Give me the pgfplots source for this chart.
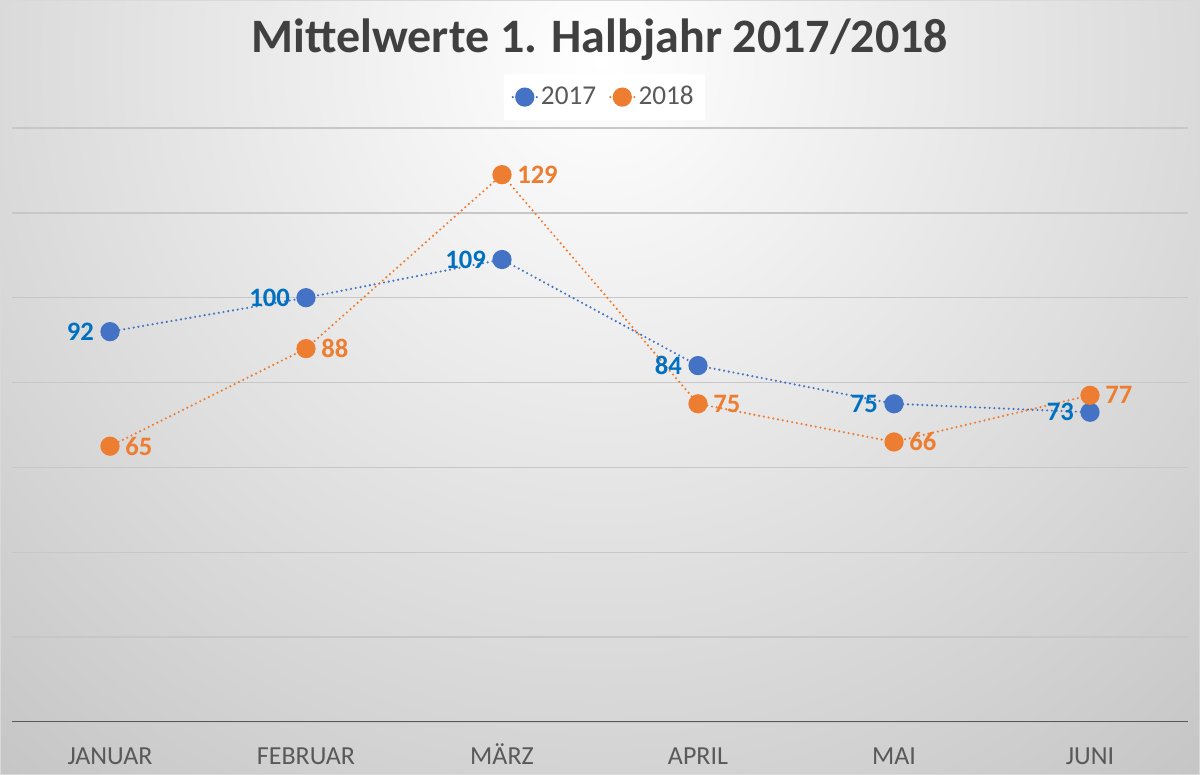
\documentclass[border=0pt]{standalone}
\usepackage{fontspec}
\setmainfont{Carlito}
\usepackage{pgfplots}
\pgfplotsset{compat=1.18}
\definecolor{cblue}{HTML}{4472C4}
\definecolor{corange}{HTML}{ED7D31}
\definecolor{lblue}{HTML}{0070C0}
\definecolor{tgray}{HTML}{404040}
\definecolor{agray}{HTML}{595959}
\begin{document}
\begin{tikzpicture}
\useasboundingbox (-6pt,-26.5pt) rectangle (594pt,361pt);
\begin{scope}
\clip (-6pt,-26.5pt) rectangle (594pt,361pt);
\shade[inner color=white, outer color=black!30] (294pt,330pt) circle (620pt);
\end{scope}
\draw[black!15, line width=0.6pt] (-5.7pt,-26.2pt) rectangle (593.7pt,360.7pt);
\begin{axis}[
  at={(0,0)}, anchor=south west,
  scale only axis, width=588pt, height=297pt,
  xmin=-0.5, xmax=5.5, ymin=0, ymax=140,
  xtick={0,...,5},
  xticklabels={JANUAR,FEBRUAR,MÄRZ,APRIL,MAI,JUNI},
  ytick={0,20,...,140}, yticklabels={},
  ymajorgrids,
  major grid style={color=black!22, line width=0.7pt},
  tick style={draw=none},
  axis line style={draw=none},
  /pgf/number format/assume math mode=true,
  xticklabel style={font=\fontsize{13}{15}\selectfont, text=agray, anchor=base, yshift=-21.5pt},
  legend columns=2,
  legend style={at={(0.5035,1.052)}, anchor=center, draw=none, fill=white,
    font=\fontsize{13.6}{15}\selectfont, text=agray, inner sep=4pt,
    nodes={inner xsep=1.5pt},
    /tikz/every odd column/.append style={column sep=0pt},
    /tikz/every even column/.append style={column sep=5pt}},
  legend image code/.code={\draw[mark repeat=2, mark phase=2, #1] plot coordinates {(0pt,0pt) (6pt,0pt) (12pt,0pt)};},
  every axis plot/.append style={line width=1.2pt, line cap=round, dash pattern=on 0pt off 2.4pt},
  nodes near coords,
]
\addplot[color=cblue, mark=*, mark size=4.2pt, mark options={solid, fill=cblue, draw=cblue},
  nodes near coords style={anchor=east, xshift=-4.2pt, font=\bfseries\fontsize{13.3}{15}\selectfont, text=lblue}]
  coordinates {(0,92) (1,100) (2,109) (3,84) (4,75) (5,73)};
\addlegendentry{2017}
\addplot[color=corange, mark=*, mark size=4.2pt, mark options={solid, fill=corange, draw=corange},
  nodes near coords style={anchor=west, xshift=3.7pt, font=\bfseries\fontsize{13.3}{15}\selectfont, text=corange}]
  coordinates {(0,65) (1,88) (2,129) (3,75) (4,66) (5,77)};
\addlegendentry{2018}
\draw[agray, line width=1pt] (rel axis cs:0,0) -- (rel axis cs:1,0);
\end{axis}
\node[font=\bfseries\fontsize{24}{28}\selectfont, text=tgray] at (294pt,341pt) {Mittelwerte 1. Halbjahr 2017/2018};
\end{tikzpicture}
\end{document}
